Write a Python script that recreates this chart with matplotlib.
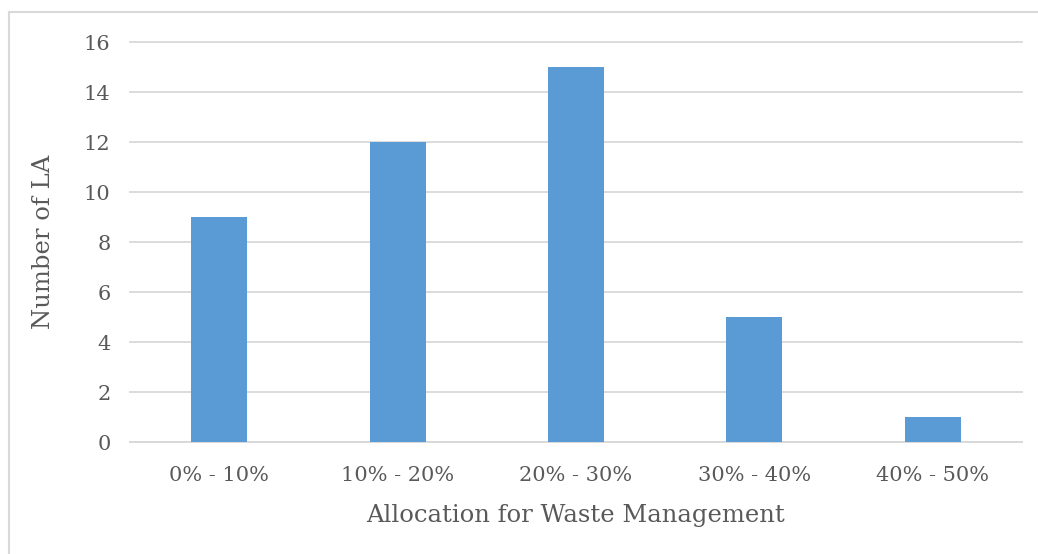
import matplotlib
matplotlib.use("Agg")
import matplotlib.pyplot as plt
from matplotlib.lines import Line2D

categories = ["0% - 10%", "10% - 20%", "20% - 30%", "30% - 40%", "40% - 50%"]
counts = [9, 12, 15, 5, 1]
yticks = [0, 2, 4, 6, 8, 10, 12, 14, 16]

plt.rcParams['font.family'] = ['DejaVu Serif']
text_color = "#595959"

fig = plt.figure(figsize=(10.38, 5.54), dpi=100)
W, H = 1038, 554
ax = fig.add_axes([130 / W, 1 - 442 / H, 892 / W, 400 / H])

x = list(range(len(categories)))
ax.bar(x, counts, width=0.314, color="#5B9BD5", zorder=3)
ax.set_xlim(-0.5, len(categories) - 0.5)
ax.set_ylim(0, 16)
ax.set_yticks(yticks)
ax.set_xticks(x)
ax.set_xticklabels(categories)
ax.yaxis.grid(True, color="#d9d9d9", linewidth=1.3, zorder=0)
for gl in ax.get_ygridlines():
    gl.set_clip_on(False)
for s in ["top", "right", "left"]:
    ax.spines[s].set_visible(False)
ax.spines["bottom"].set_color("#d9d9d9")
ax.spines["bottom"].set_linewidth(1.3)
ax.tick_params(axis="both", length=0, labelsize=15, colors=text_color)
ax.tick_params(axis="x", pad=17)
ax.tick_params(axis="y", pad=14)
ax.set_xlabel("Allocation for Waste Management", fontsize=17.5, color=text_color, labelpad=14)
ax.set_ylabel("Number of LA", fontsize=17.5, color=text_color, labelpad=21)

# outer chart border
fig.add_artist(Line2D([9 / W, 9 / W], [0, 1 - 12 / H], transform=fig.transFigure, color="#d9d9d9", lw=1.5))
fig.add_artist(Line2D([9 / W, 1], [1 - 12 / H, 1 - 12 / H], transform=fig.transFigure, color="#d9d9d9", lw=1.5))

fig.savefig("out.png", dpi=100)
